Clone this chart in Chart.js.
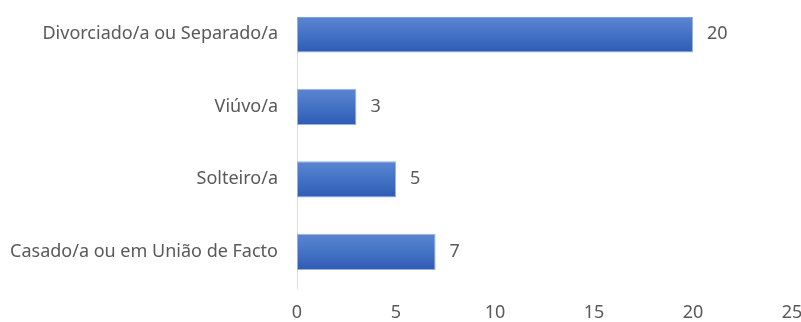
<!DOCTYPE html>
<html>
<head>
<meta charset="utf-8">
<script src="https://cdn.jsdelivr.net/npm/chart.js@4.4.1/dist/chart.umd.min.js"></script>
<style>
  html, body { margin: 0; padding: 0; background: #fff; }
  #frame { position: absolute; left: 0; top: 17px; width: 801px; height: 305px; overflow: hidden; }
  #box { position: absolute; left: 0; top: -19px; width: 801px; height: 324px; }
</style>
</head>
<body>
<div id="frame"><div id="box"><canvas id="estadoCivil"></canvas></div></div>
<script>
// estado civil dos inquiridos
var categorias = ['Divorciado/a ou Separado/a', 'Viúvo/a', 'Solteiro/a', 'Casado/a ou em União de Facto'];
var valores = [20, 3, 5, 7];
var ticksX = [0, 5, 10, 15, 20, 25];

var corTexto = '#595959';
var fonte = { family: 'Noto Sans', size: 18 };

// degradê vertical de cada barra (claro em cima, escuro em baixo)
function corBarra(context) {
    var chart = context.chart;
    var y = chart.scales.y;
    if (!chart.chartArea || !y) return '#4472c4';
    var c = y.getPixelForValue(context.dataIndex);
    var g = chart.ctx.createLinearGradient(0, c - 18, 0, c + 18);
    g.addColorStop(0, '#5b86d2');
    g.addColorStop(0.5, '#4472c4');
    g.addColorStop(1, '#2f5cb4');
    return g;
}

// escreve o valor à direita de cada barra
var rotulosValores = {
    id: 'rotulosValores',
    afterDatasetsDraw: function (chart) {
        var ctx = chart.ctx;
        var meta = chart.getDatasetMeta(0);
        ctx.save();
        ctx.font = fonte.size + 'px "' + fonte.family + '"';
        ctx.fillStyle = corTexto;
        ctx.textAlign = 'left';
        ctx.textBaseline = 'middle';
        meta.data.forEach(function (bar, i) {
            ctx.fillText(String(valores[i]), bar.x + 14, bar.y);
        });
        ctx.restore();
    }
};

var ctx = document.getElementById('estadoCivil');
var grafico = new Chart(ctx, {
    type: 'bar',
    data: {
        labels: categorias,
        datasets: [{
            data: valores,
            backgroundColor: corBarra,
            borderColor: 'rgba(143,170,222,0.9)',
            borderWidth: 1,
            borderSkipped: false,
            categoryPercentage: 1,
            barPercentage: 0.5
        }]
    },
    options: {
        indexAxis: 'y',
        responsive: true,
        maintainAspectRatio: false,
        animation: false,
        layout: { padding: { left: 0, right: 9, top: 0, bottom: 0 } },
        plugins: { legend: { display: false }, tooltip: { enabled: false } },
        scales: {
            x: {
                min: 0,
                max: 25,
                afterBuildTicks: function (scale) {
                    scale.ticks = ticksX.map(function (v) { return { value: v }; });
                },
                grid: { display: false, drawTicks: false },
                border: { display: false },
                ticks: { color: corTexto, font: fonte, padding: 14 },
                afterFit: function (scale) {
                    scale.height = 34;
                    scale.paddingLeft = 0;
                    scale.paddingRight = 0;
                }
            },
            y: {
                grid: { display: false, drawTicks: false },
                border: { display: true, color: '#d9dce4', width: 1 },
                ticks: { color: corTexto, font: fonte, padding: 19 },
                afterFit: function (scale) {
                    scale.width = 297;
                    scale.paddingTop = 0;
                    scale.paddingBottom = 0;
                }
            }
        }
    },
    plugins: [rotulosValores]
});
</script>
</body>
</html>
